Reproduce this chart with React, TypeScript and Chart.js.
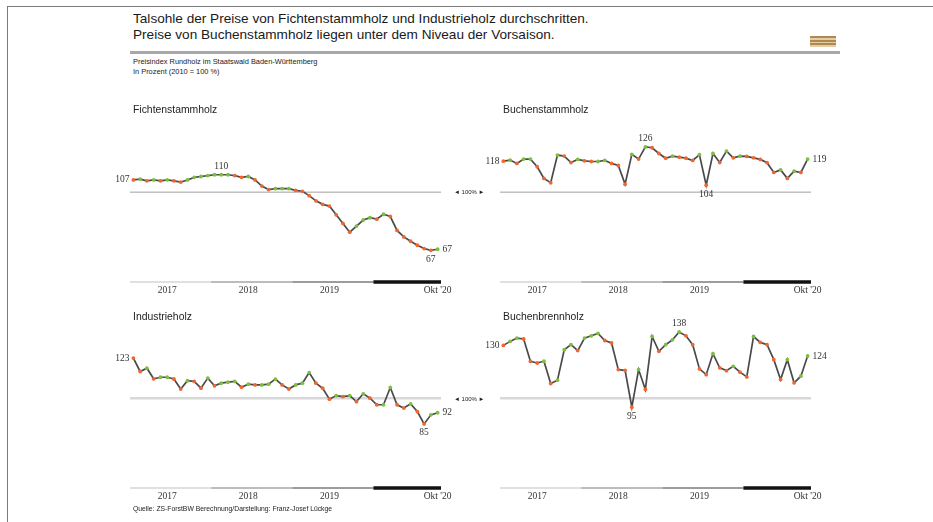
import React, { useEffect, useRef } from "react";
import { Chart, registerables } from "chart.js";
Chart.register(...registerables);

const months = [
  "Jan 17", "Feb 17", "Mär 17", "Apr 17", "Mai 17", "Jun 17", "Jul 17", "Aug 17", "Sep 17", "Okt 17", "Nov 17", "Dez 17",
  "Jan 18", "Feb 18", "Mär 18", "Apr 18", "Mai 18", "Jun 18", "Jul 18", "Aug 18", "Sep 18", "Okt 18", "Nov 18", "Dez 18",
  "Jan 19", "Feb 19", "Mär 19", "Apr 19", "Mai 19", "Jun 19", "Jul 19", "Aug 19", "Sep 19", "Okt 19", "Nov 19", "Dez 19",
  "Jan 20", "Feb 20", "Mär 20", "Apr 20", "Mai 20", "Jun 20", "Jul 20", "Aug 20", "Sep 20", "Okt 20",
];

const fichte = [
  107, 107.5, 106.5, 107, 106.5, 107, 106.5, 105.8, 107, 108.5,
  109, 109.5, 110, 110, 110, 109.5, 108.5, 109, 107, 103.5,
  101.5, 102, 102, 102, 101, 100.5, 98, 95, 93, 92,
  87, 82, 77, 80.5, 84, 85.3, 84.5, 87.3, 86, 78,
  74.3, 71.8, 69.5, 67.6, 66.6, 67.2,
];

const buchenStamm = [
  117.8, 118.4, 116.5, 119, 119, 114.6, 107.9, 105.4, 121.3, 120.7,
  117, 118.8, 118, 117.6, 117.6, 118.2, 116.5, 115.3, 104.6, 121.7,
  119, 126, 125.5, 122.2, 119.5, 120.7, 120.1, 119.5, 118.2, 121.5,
  104, 122.2, 117, 123.6, 119.7, 120.7, 120.5, 119.7, 118.8, 116.9,
  111.3, 112.8, 107.9, 112.1, 111.3, 119,
];

const industrie = [
  123, 115.3, 117.2, 111.1, 112, 112, 111, 105.2, 110, 109.6,
  105.7, 111.5, 107.1, 108.6, 109.2, 109.6, 106.3, 108, 107.6, 107.6,
  108, 110.9, 107.6, 105.2, 107.6, 108.6, 114.7, 108.6, 105.7, 99.4,
  101.5, 100.9, 101.5, 98, 102.5, 100, 96.2, 96.2, 106.1, 96.2,
  94.3, 96.7, 92.3, 85.2, 90.4, 91.6,
];

const buchenBrenn = [
  130.3, 132.6, 134.5, 134, 121.2, 120.2, 121.2, 108.4, 110.3, 127.8,
  130.7, 127.3, 134.5, 135.8, 137.2, 133.1, 131.7, 116.4, 116, 94.8,
  116.4, 105, 135.4, 126.9, 130.7, 133.5, 138, 135.8, 130.7, 116.8,
  113.5, 125.5, 117.4, 115.8, 118.3, 114.9, 112.2, 135.4, 132, 130.7,
  122.1, 110.7, 122.1, 108.8, 112.6, 124.2,
];

const yearLabels = ["2017", "2018", "2019", "Okt '20"];
const yearFirstMonth = [0, 12, 24, 36];
const yearLastMonth = [11, 23, 35, 45];
const yearLabelMonth = [5, 17, 29, 45];

const BASE_VALUE = 100;

type Ann = { i: number; pos: "left" | "right" | "above" | "below" };

const fichteAnns: Ann[] = [
  { i: 0, pos: "left" }, { i: 13, pos: "above" }, { i: 44, pos: "below" }, { i: 45, pos: "right" },
];
const buchenStammAnns: Ann[] = [
  { i: 0, pos: "left" }, { i: 21, pos: "above" }, { i: 30, pos: "below" }, { i: 45, pos: "right" },
];
const industrieAnns: Ann[] = [
  { i: 0, pos: "left" }, { i: 43, pos: "below" }, { i: 45, pos: "right" },
];
const buchenBrennAnns: Ann[] = [
  { i: 0, pos: "left" }, { i: 26, pos: "above" }, { i: 19, pos: "below" }, { i: 45, pos: "right" },
];

const GREEN = "#7dbd40";
const RED = "#ee6630";
const NUM_FONT = "9.5px 'Liberation Serif', serif";

const decoPlugin = {
  id: "deco",
  beforeDatasetsDraw(chart: any, _a: any, opts: any) {
    const { ctx, chartArea, scales } = chart;
    const y = scales.y.getPixelForValue(BASE_VALUE);
    ctx.save();
    ctx.strokeStyle = opts.baseColor;
    ctx.lineWidth = opts.baseWidth;
    ctx.beginPath();
    ctx.moveTo(chartArea.left, y);
    ctx.lineTo(chartArea.right, y);
    ctx.stroke();
    ctx.restore();
  },
  afterDatasetsDraw(chart: any, _a: any, opts: any) {
    const { ctx, chartArea, scales } = chart;
    const xs = scales.x;
    const half = (xs.getPixelForValue(1) - xs.getPixelForValue(0)) / 2;
    const barY = chartArea.bottom + 11.5;
    const barColors = ["#d6d6d6", "#bcbcbc", "#9c9c9c", "#111111"];
    const barWidths = [1.5, 2, 2.2, 3.5];
    ctx.save();
    yearFirstMonth.forEach((f, k) => {
      const x0 = xs.getPixelForValue(f) - half;
      const x1 = xs.getPixelForValue(yearLastMonth[k]) + half;
      ctx.strokeStyle = barColors[k];
      ctx.lineWidth = barWidths[k];
      ctx.beginPath();
      ctx.moveTo(x0, barY);
      ctx.lineTo(x1, barY);
      ctx.stroke();
    });
    ctx.fillStyle = "#333";
    ctx.font = NUM_FONT;
    ctx.textAlign = "center";
    ctx.textBaseline = "middle";
    yearLabelMonth.forEach((m, k) => {
      ctx.fillText(yearLabels[k], xs.getPixelForValue(m), barY + 8);
    });
    const meta = chart.getDatasetMeta(0);
    const data = chart.data.datasets[0].data as number[];
    (opts.anns as Ann[]).forEach((a) => {
      const p = meta.data[a.i];
      const txt = String(Math.round(data[a.i]));
      if (a.pos === "left") {
        ctx.textAlign = "right";
        ctx.fillText(txt, p.x - 4, p.y);
      } else if (a.pos === "right") {
        ctx.textAlign = "left";
        ctx.fillText(txt, p.x + 5, p.y);
      } else if (a.pos === "above") {
        ctx.textAlign = "center";
        ctx.fillText(txt, p.x, p.y - 8);
      } else {
        ctx.textAlign = "center";
        ctx.fillText(txt, p.x, p.y + 9);
      }
    });
    ctx.restore();
  },
};

function Panel(props: {
  values: number[];
  anns: Ann[];
  left: number;
  top: number;
  baseColor: string;
  baseWidth: number;
}) {
  const ref = useRef<HTMLCanvasElement>(null);
  useEffect(() => {
    if (!ref.current) return;
    const chart = new Chart(ref.current, {
      type: "line",
      data: {
        labels: months,
        datasets: [
          {
            data: props.values,
            borderColor: "#4a4a4a",
            borderWidth: 1.7,
            tension: 0,
            pointRadius: 1.9,
            pointBorderWidth: 0,
            pointBackgroundColor: (c: any) => {
              const i = c.dataIndex;
              const d = c.dataset.data as number[];
              if (i === 0) return RED;
              return d[i] >= d[i - 1] ? GREEN : RED;
            },
          },
        ],
      },
      options: {
        responsive: false,
        animation: false,
        layout: { padding: { left: 30, right: 29, top: 22.5, bottom: 29.5 } },
        scales: {
          x: { type: "category", display: false, offset: true },
          y: { display: false, min: 55, max: 140 },
        },
        plugins: {
          legend: { display: false },
          tooltip: { enabled: false },
          deco: { anns: props.anns, baseColor: props.baseColor, baseWidth: props.baseWidth },
        } as any,
      },
      plugins: [decoPlugin],
    });
    return () => chart.destroy();
  }, []);
  return (
    <canvas
      ref={ref}
      width={370}
      height={200}
      style={{ position: "absolute", left: props.left, top: props.top, width: 370, height: 200 }}
    />
  );
}

const sans = "'Liberation Sans', Arial, sans-serif";

export default function App() {
  const txt = (left: number, top: number, size: number, s: string, extra: any = {}) => (
    <div
      style={{
        position: "absolute",
        left,
        top,
        fontFamily: sans,
        fontSize: size,
        lineHeight: size + 2 + "px",
        color: "#222",
        whiteSpace: "nowrap",
        zIndex: 2,
        ...extra,
      }}
    >
      {s}
    </div>
  );
  return (
    <div
      style={{
        position: "absolute",
        left: 0,
        top: 0,
        width: 933,
        height: 522,
        overflow: "hidden",
        background: "#fff",
      }}
    >
      <div
        style={{
          position: "absolute",
          left: 7,
          top: 6,
          width: 940,
          height: 600,
          borderLeft: "1.5px solid #7a7a7a",
          borderTop: "1.5px solid #7a7a7a",
        }}
      />
      {txt(133, 11, 13.6, "Talsohle der Preise von Fichtenstammholz und Industrieholz durchschritten.", { color: "#1a1a1a" })}
      {txt(133, 27, 13.6, "Preise von Buchenstammholz liegen unter dem Niveau der Vorsaison.", { color: "#1a1a1a" })}
      <div style={{ position: "absolute", left: 130, top: 51, width: 710, height: 3, background: "#a8a8a8" }} />
      <div
        style={{
          position: "absolute",
          left: 810,
          top: 36,
          width: 26,
          height: 11,
          background:
            "repeating-linear-gradient(to bottom, #b08850 0px, #b08850 2px, #e3cfa6 2px, #e3cfa6 3.7px)",
        }}
      />
      {txt(133, 57, 7.4, "Preisindex Rundholz im Staatswald Baden-Württemberg")}
      {txt(133, 67, 7.4, "In Prozent (2010 = 100 %)")}
      {txt(133, 104, 10.4, "Fichtenstammholz")}
      {txt(503, 104, 10.4, "Buchenstammholz")}
      {txt(133, 311, 10.4, "Industrieholz")}
      {txt(503, 311, 10.4, "Buchenbrennholz")}
      {txt(454, 188, 6, "◄ 100% ►")}
      {txt(454, 394.5, 6, "◄ 100% ►")}
      {txt(133, 505, 6.8, "Quelle: ZS-ForstBW   Berechnung/Darstellung: Franz-Josef Lückge")}
      <Panel values={fichte} anns={fichteAnns} left={100} top={100} baseColor="#a0a0a0" baseWidth={1} />
      <Panel values={buchenStamm} anns={buchenStammAnns} left={470} top={100} baseColor="#a0a0a0" baseWidth={1} />
      <Panel values={industrie} anns={industrieAnns} left={100} top={306} baseColor="#d8d8d8" baseWidth={2.5} />
      <Panel values={buchenBrenn} anns={buchenBrennAnns} left={470} top={306} baseColor="#d8d8d8" baseWidth={2.5} />
    </div>
  );
}
